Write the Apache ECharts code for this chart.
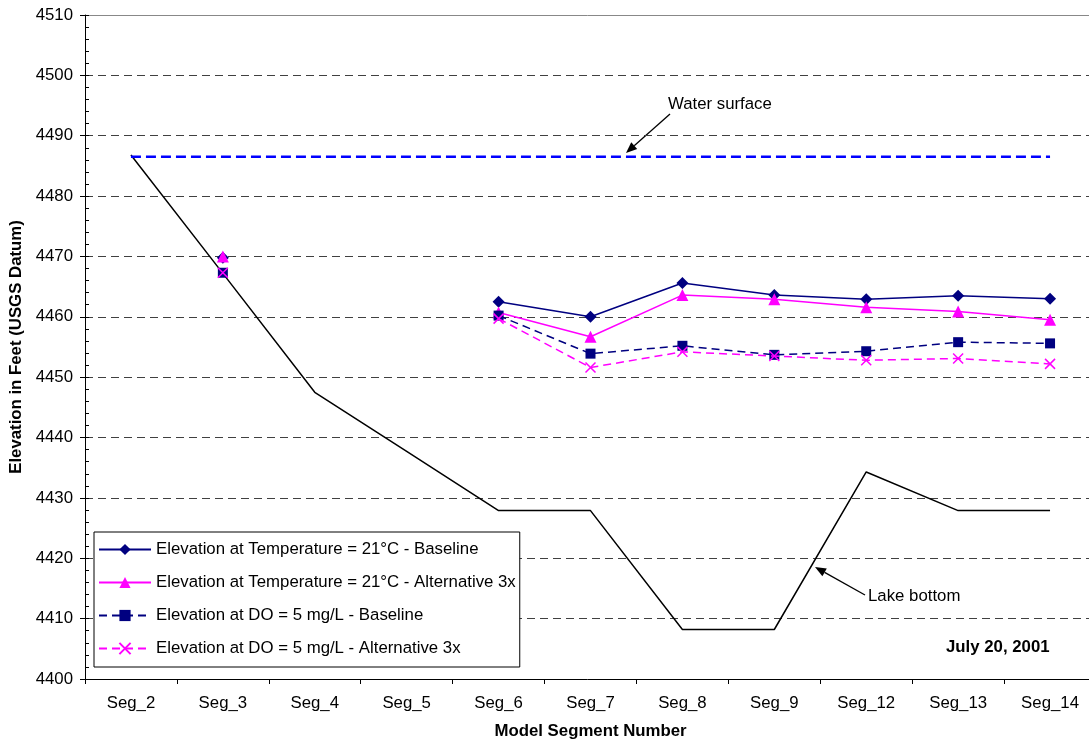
<!DOCTYPE html>
<html>
<head>
<meta charset="utf-8">
<script src="https://cdn.jsdelivr.net/npm/echarts@6/dist/echarts.min.js"></script>
<style>
  html, body { margin: 0; padding: 0; background: #fff; }
  #chart { width: 1089px; height: 743px; }
</style>
</head>
<body>
<div id="chart"></div>
<script>
// 分段名称
var segments = ['Seg_2', 'Seg_3', 'Seg_4', 'Seg_5', 'Seg_6', 'Seg_7',
    'Seg_8', 'Seg_9', 'Seg_12', 'Seg_13', 'Seg_14'];

var lakeBottom = [4486.8, 4467.2, 4447.5, 4437.7, 4427.9, 4427.9,
    4408.2, 4408.2, 4434.3, 4427.9, 4427.9];

var waterSurface = [4486.5, 4486.5, 4486.5, 4486.5, 4486.5, 4486.5,
    4486.5, 4486.5, 4486.5, 4486.5, 4486.5];

var tempBaseline = [null, 4469.8, null, null, 4462.5, 4460.0,
    4465.6, 4463.6, 4462.9, 4463.5, 4463.0];

var tempAlt3x = [null, 4470.0, null, null, 4460.7, 4456.7,
    4463.6, 4462.9, 4461.6, 4460.9, 4459.5];

var doBaseline = [null, 4467.3, null, null, 4460.2, 4453.9,
    4455.2, 4453.7, 4454.3, 4455.8, 4455.6];

var doAlt3x = [null, 4467.3, null, null, 4459.7, 4451.6,
    4454.2, 4453.5, 4452.8, 4453.1, 4452.2];

var seriesNames = [
    'Elevation at Temperature = 21°C - Baseline',
    'Elevation at Temperature = 21°C - Alternative 3x',
    'Elevation at DO = 5 mg/L - Baseline',
    'Elevation at DO = 5 mg/L - Alternative 3x'
];

var FONT = 'Arial, "Liberation Sans", sans-serif';
var FS = 16.8;
var NAVY = '#000080';
var MAGENTA = '#FF00FF';

// 箭头 (注释用)
function arrow(x1, y1, x2, y2) {
    var dx = x2 - x1, dy = y2 - y1;
    var len = Math.sqrt(dx * dx + dy * dy);
    var ux = dx / len, uy = dy / len;
    var bx = x2 - ux * 11, by = y2 - uy * 11;
    var nx = -uy, ny = ux;
    return [{
        type: 'line',
        shape: {x1: x1, y1: y1, x2: bx, y2: by},
        style: {stroke: '#000', lineWidth: 1.3}
    }, {
        type: 'polygon',
        shape: {points: [[x2, y2], [bx + nx * 4.5, by + ny * 4.5], [bx - nx * 4.5, by - ny * 4.5]]},
        style: {fill: '#000'}
    }];
}

var chart = echarts.init(document.getElementById('chart'));

var option = {
    animation: false,
    backgroundColor: '#fff',
    textStyle: {fontFamily: FONT},
    grid: {left: 85, top: 15, bottom: 64, right: -7, containLabel: false, outerBoundsMode: 'none'},
    legend: {
        data: seriesNames,
        orient: 'vertical',
        left: 94,
        top: 532,
        itemWidth: 52,
        itemHeight: 14,
        itemGap: 16,
        padding: [9, 4, 10, 4],
        borderColor: '#000',
        borderWidth: 1,
        backgroundColor: '#fff',
        textStyle: {fontFamily: FONT, fontSize: FS, color: '#000'}
    },
    xAxis: [{
        type: 'category',
        data: segments,
        boundaryGap: true,
        name: 'Model Segment Number',
        nameLocation: 'middle',
        nameGap: 44,
        nameTextStyle: {fontFamily: FONT, fontSize: FS, fontWeight: 'bold', color: '#000'},
        axisLine: {lineStyle: {color: '#000', width: 1}},
        axisTick: {show: true, length: 5, lineStyle: {color: '#000'}},
        axisLabel: {fontFamily: FONT, fontSize: FS, color: '#000', margin: 16},
        splitLine: {show: false}
    }, {
        type: 'category',
        data: segments,
        position: 'top',
        axisLine: {lineStyle: {color: '#888', width: 1}},
        axisTick: {show: false},
        axisLabel: {show: false},
        splitLine: {show: false}
    }],
    yAxis: [{
        type: 'value',
        min: 4400,
        max: 4510,
        interval: 10,
        name: 'Elevation in Feet (USGS Datum)',
        nameLocation: 'middle',
        nameGap: 55,
        nameTextStyle: {fontFamily: FONT, fontSize: FS, fontWeight: 'bold', color: '#000'},
        axisLine: {show: true, lineStyle: {color: '#000', width: 1}},
        axisTick: {show: true, length: 5, lineStyle: {color: '#000'}},
        axisLabel: {
            fontFamily: FONT, fontSize: FS, color: '#000', margin: 12,
            formatter: function (v) { return String(v); }
        },
        splitLine: {show: true, lineStyle: {color: '#404040', type: [8, 5], width: 1}}
    }, {
        // 次刻度 (内侧)
        type: 'value',
        min: 4400,
        max: 4510,
        interval: 2,
        position: 'left',
        axisLine: {show: false},
        axisTick: {show: true, inside: true, length: 4, lineStyle: {color: '#000'}},
        axisLabel: {show: false},
        splitLine: {show: false}
    }],
    series: [{
        name: 'Lake bottom',
        type: 'line',
        data: lakeBottom,
        symbol: 'none',
        lineStyle: {color: '#000', width: 1.5},
        z: 2
    }, {
        name: 'Water surface',
        type: 'line',
        data: waterSurface,
        symbol: 'none',
        lineStyle: {color: '#0000FF', width: 2.5, type: [10, 5]},
        z: 2
    }, {
        name: seriesNames[0],
        type: 'line',
        data: tempBaseline,
        symbol: 'diamond',
        symbolSize: 12,
        itemStyle: {color: NAVY},
        lineStyle: {color: NAVY, width: 1.5},
        z: 3
    }, {
        name: seriesNames[1],
        type: 'line',
        data: tempAlt3x,
        symbol: 'triangle',
        symbolSize: 12,
        itemStyle: {color: MAGENTA},
        lineStyle: {color: MAGENTA, width: 1.5},
        z: 4
    }, {
        name: seriesNames[2],
        type: 'line',
        data: doBaseline,
        symbol: 'rect',
        symbolSize: 10,
        itemStyle: {color: NAVY},
        lineStyle: {color: NAVY, width: 1.5, type: [8, 5]},
        z: 5
    }, {
        name: seriesNames[3],
        type: 'line',
        data: doAlt3x,
        symbol: 'path://M0,0L10,10M10,0L0,10',
        symbolSize: 10,
        itemStyle: {color: 'none', borderColor: MAGENTA, borderWidth: 1.5},
        lineStyle: {color: MAGENTA, width: 1.5, type: [8, 5]},
        z: 6
    }],
    graphic: [].concat(
        arrow(670, 114, 626, 153),
        arrow(865, 595, 815, 567),
        [{
            type: 'text', left: 668, top: 96,
            style: {text: 'Water surface', font: FS + 'px ' + FONT, fill: '#000'}
        }, {
            type: 'text', left: 868, top: 588,
            style: {text: 'Lake bottom', font: FS + 'px ' + FONT, fill: '#000'}
        }, {
            type: 'text', left: 946, top: 639,
            style: {text: 'July 20, 2001', font: 'bold ' + FS + 'px ' + FONT, fill: '#000'}
        }]
    )
};

chart.setOption(option);
</script>
</body>
</html>
